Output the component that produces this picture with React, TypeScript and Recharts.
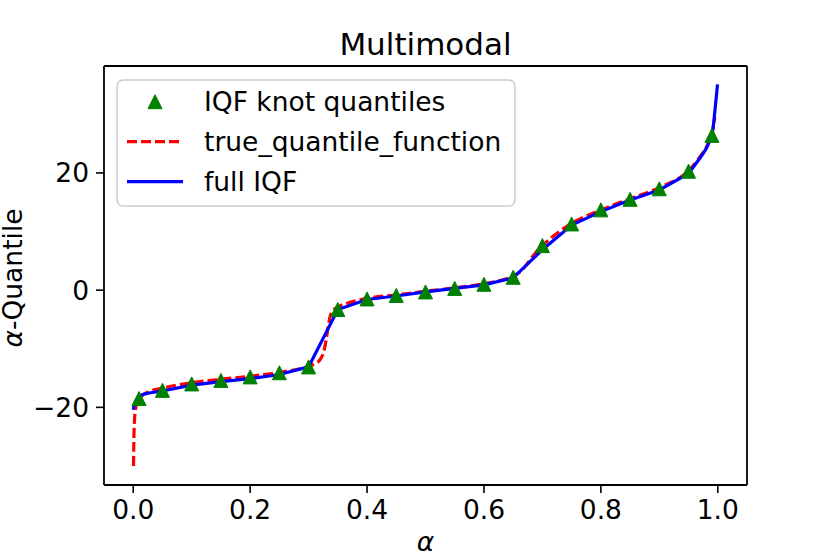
import { ComposedChart, Line, Scatter, XAxis, YAxis, Legend, ReferenceLine } from 'recharts';

// knots of the IQF (triangles)
const knotAlpha = [0.01, 0.05, 0.1, 0.15, 0.2, 0.25, 0.3, 0.35, 0.4, 0.45, 0.5, 0.55, 0.6, 0.65, 0.7, 0.75, 0.8, 0.85, 0.9, 0.95, 0.99];
const knotQuantile = [-18.5, -17.1, -16.0, -15.4, -14.8, -14.1, -13.1, -3.3, -1.5, -0.9, -0.3, 0.3, 1.0, 2.2, 7.6, 11.3, 13.7, 15.5, 17.3, 20.3, 26.4];

// true quantile function (red dashed)
const trueAlpha = [0.0005, 0.001, 0.002, 0.004, 0.008, 0.015, 0.03, 0.05, 0.1, 0.15, 0.2, 0.25, 0.3, 0.31, 0.32, 0.325, 0.33, 0.333, 0.336, 0.34, 0.35, 0.37, 0.4, 0.45, 0.5, 0.55, 0.6, 0.64, 0.65, 0.66, 0.67, 0.68, 0.69, 0.7, 0.75, 0.8, 0.85, 0.9, 0.95, 0.97, 0.98, 0.985, 0.99, 0.995];
const trueQuantile = [-30.0, -26.0, -22.5, -20.3, -18.9, -18.0, -17.2, -16.7, -15.8, -15.2, -14.7, -14.0, -13.0, -12.6, -11.8, -10.8, -8.5, -6.5, -4.8, -3.7, -2.9, -2.1, -1.4, -0.8, -0.2, 0.4, 1.1, 2.0, 2.4, 3.0, 4.0, 5.3, 6.6, 7.6, 11.4, 13.7, 15.6, 17.5, 20.4, 22.8, 24.3, 25.3, 26.8, 29.5];

// full IQF (blue)
const iqfAlpha = [0, 0.002, 0.006, 0.012, 0.02, 0.03, 0.05, 0.1, 0.15, 0.2, 0.25, 0.3, 0.35, 0.4, 0.45, 0.5, 0.55, 0.6, 0.65, 0.7, 0.75, 0.8, 0.85, 0.9, 0.95, 0.97, 0.98, 0.985, 0.99, 0.992, 0.995, 0.998, 0.9995];
const iqfQuantile = [-20.4, -19.4, -18.6, -18.0, -17.7, -17.5, -17.2, -16.2, -15.6, -15.1, -14.4, -13.1, -3.3, -1.6, -1.0, -0.3, 0.3, 0.9, 2.1, 6.9, 11.1, 13.4, 15.4, 17.1, 19.9, 22.6, 24.1, 25.2, 26.7, 27.6, 30.5, 33.5, 35.1];

const xTicks = [0, 0.2, 0.4, 0.6, 0.8, 1.0];
const yTicks = [-20, 0, 20];
const xDomain = [-0.05, 1.05];
const yDomain = [-33.25, 38.25];

const knots = knotAlpha.map((x, i) => ({ x, y: knotQuantile[i] }));
const trueCurve = trueAlpha.map((x, i) => ({ x, y: trueQuantile[i] }));
const iqfCurve = iqfAlpha.map((x, i) => ({ x, y: iqfQuantile[i] }));

const FONT = 'DejaVu Sans';
const FS = 26.5;
const GREEN = '#008000';
const RED = '#ff0000';
const BLUE = '#0000ff';

const legendItems = [
  { name: 'IQF knot quantiles', kind: 'marker', color: GREEN },
  { name: 'true_quantile_function', kind: 'dash', color: RED },
  { name: 'full IQF', kind: 'line', color: BLUE },
];

const Triangle = (props: any) => {
  const { cx, cy } = props;
  const h = 7;
  return (
    <polygon
      points={`${cx},${cy - h} ${cx - h},${cy + h} ${cx + h},${cy + h}`}
      fill={GREEN}
      stroke={GREEN}
      strokeWidth={1}
    />
  );
};

const fmtMinus = (v: number) => (v < 0 ? '\u2212' + Math.abs(v) : String(v));

const LegendBox = () => (
  <svg width={400} height={128} style={{ display: 'block' }}>
    <rect x={1} y={1} width={398} height={126} rx={6} fill="#fff" fillOpacity={0.8} stroke="#cccccc" strokeWidth={1.5} />
    {legendItems.map((item, i) => {
      const cy = 22.7 + i * 40;
      return (
        <g key={item.name}>
          {item.kind === 'marker' && (
            <polygon points={`39,${cy - 7} 32,${cy + 7} 46,${cy + 7}`} fill={item.color} stroke={item.color} />
          )}
          {item.kind !== 'marker' && (
            <line
              x1={11}
              x2={67}
              y1={cy}
              y2={cy}
              stroke={item.color}
              strokeWidth={3.2}
              strokeDasharray={item.kind === 'dash' ? '10 4' : undefined}
            />
          )}
          <text x={88} y={cy + 9.5} fontFamily={FONT} fontSize={FS} fill="#000">
            {item.name}
          </text>
        </g>
      );
    })}
  </svg>
);

export default function App() {
  return (
    <div style={{ position: 'absolute', left: 0, top: 0, background: '#fff' }}>
      <ComposedChart width={830} height={554} margin={{ top: 66, right: 83, bottom: 0, left: 0 }}>
        <XAxis
          dataKey="x"
          type="number"
          domain={xDomain}
          ticks={xTicks}
          allowDataOverflow
          tickFormatter={(v: number) => v.toFixed(1)}
          height={69}
          tickSize={8}
          tickMargin={7}
          axisLine={{ stroke: '#000', strokeWidth: 1.8 }}
          tickLine={{ stroke: '#000', strokeWidth: 1.6 }}
          tick={{ fill: '#000', fontSize: FS, fontFamily: FONT }}
          label={{
            content: (p: any) => (
              <text
                x={p.viewBox.x + p.viewBox.width / 2}
                y={p.viewBox.y + 66}
                textAnchor="middle"
                fontFamily={FONT}
                fontSize={FS}
                fontStyle="italic"
                fill="#000"
              >
                α
              </text>
            ),
          }}
        />
        <YAxis
          type="number"
          domain={yDomain}
          ticks={yTicks}
          allowDataOverflow
          width={104}
          tickFormatter={fmtMinus}
          tickSize={8}
          tickMargin={7}
          axisLine={{ stroke: '#000', strokeWidth: 1.8 }}
          tickLine={{ stroke: '#000', strokeWidth: 1.6 }}
          tick={{ fill: '#000', fontSize: FS, fontFamily: FONT }}
          label={{
            content: (p: any) => {
              const cy = p.viewBox.y + p.viewBox.height / 2 + 2.5;
              return (
                <text
                  x={22}
                  y={cy}
                  transform={`rotate(-90, 22, ${cy})`}
                  textAnchor="middle"
                  fontFamily={FONT}
                  fontSize={FS}
                  fill="#000"
                >
                  <tspan fontStyle="italic">α</tspan>-Quantile
                </text>
              );
            },
          }}
        />
        <ReferenceLine
          y={yDomain[1]}
          stroke="#000"
          strokeWidth={1.8}
          label={{
            content: (p: any) => (
              <text
                x={p.viewBox.x + p.viewBox.width / 2}
                y={p.viewBox.y - 11}
                textAnchor="middle"
                fontFamily={FONT}
                fontSize={31}
                fill="#000"
              >
                Multimodal
              </text>
            ),
          }}
        />
        <ReferenceLine x={xDomain[1]} stroke="#000" strokeWidth={1.8} />
        <Scatter data={knots} dataKey="y" name="IQF knot quantiles" fill={GREEN} shape={Triangle} isAnimationActive={false} />
        <Line
          data={trueCurve}
          dataKey="y"
          name="true_quantile_function"
          type="monotone"
          stroke={RED}
          strokeWidth={3.2}
          strokeDasharray="10 4"
          dot={false}
          activeDot={false}
          isAnimationActive={false}
        />
        <Line
          data={iqfCurve}
          dataKey="y"
          name="full IQF"
          type="linear"
          stroke={BLUE}
          strokeWidth={3.2}
          dot={false}
          activeDot={false}
          isAnimationActive={false}
        />
        <Legend
          layout="vertical"
          align="center"
          verticalAlign="middle"
          wrapperStyle={{ left: 116, top: 79, width: 400, height: 128 }}
          content={() => <LegendBox />}
        />
      </ComposedChart>
    </div>
  );
}
